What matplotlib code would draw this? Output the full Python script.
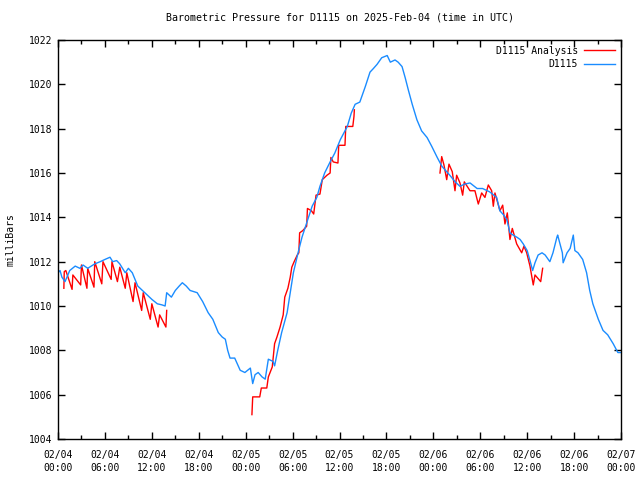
import matplotlib
matplotlib.use("Agg")
import matplotlib.pyplot as plt
import numpy as np

# D1115 observed pressure (hours since 2025-02-04 00:00 UTC, mb)
obs_hours = [0.0, 0.26, 0.5, 0.9, 1.5, 2.2, 2.8, 3.2, 3.8, 4.7, 5.4, 6.0, 6.65, 7.0, 7.5,
             7.9, 8.6, 9.0, 9.5, 10.2, 11.1, 12.0, 12.7, 13.3, 13.7, 13.9, 14.5, 15.0, 15.5,
             15.9, 16.4, 16.9, 17.8, 18.5, 19.2, 19.8, 20.5, 21.0, 21.4, 21.7, 22.0, 22.6,
             23.3, 23.9, 24.6, 24.9, 25.2, 25.6, 26.1, 26.5, 26.9, 27.5, 27.7, 28.1, 28.6,
             29.3, 29.7, 30.1, 30.7, 31.2, 31.8, 32.5, 33.1, 33.5, 34.1, 34.8, 35.4, 36.1,
             37.0, 37.5, 38.0, 38.6, 39.3, 39.9, 40.3, 40.8, 41.4, 42.1, 42.5, 43.1, 43.5,
             44.0, 44.4, 44.8, 45.3, 45.9, 46.5, 47.2, 47.8, 48.5, 49.1, 49.6, 50.1, 50.8,
             51.4, 52.0, 52.7, 53.6, 54.3, 55.2, 56.1, 56.5, 57.0, 57.4, 57.8, 58.2, 58.7,
             59.1, 59.5, 60.0, 60.4, 60.7, 61.0, 61.4, 61.9, 62.3, 62.9, 63.3, 63.8, 63.9,
             64.5, 64.6, 65.1, 65.5, 65.9, 66.1, 66.5, 67.1, 67.6, 68.0, 68.4, 69.1, 69.7,
             70.3, 71.0, 71.6, 72.0]
obs_mb = [1011.5, 1011.6, 1011.3, 1011.1, 1011.6, 1011.8, 1011.7, 1011.85, 1011.7, 1011.9,
          1012.0, 1012.1, 1012.2, 1012.0, 1012.05, 1011.9, 1011.5, 1011.7, 1011.5, 1010.9,
          1010.6, 1010.3, 1010.1, 1010.05, 1010.0, 1010.6, 1010.4, 1010.7, 1010.9, 1011.05,
          1010.9, 1010.7, 1010.6, 1010.2, 1009.7, 1009.4, 1008.8, 1008.6, 1008.5, 1008.0,
          1007.65, 1007.65, 1007.1, 1007.0, 1007.2, 1006.5, 1006.9, 1007.0, 1006.8, 1006.7,
          1007.6, 1007.5, 1007.3, 1008.0, 1008.8, 1009.7, 1010.6, 1011.5, 1012.4, 1013.1,
          1013.75, 1014.5, 1014.9, 1015.4, 1016.0, 1016.5, 1016.9, 1017.5, 1018.1, 1018.7,
          1019.1, 1019.2, 1019.9, 1020.55, 1020.7, 1020.9, 1021.2, 1021.3, 1021.0, 1021.1,
          1021.0, 1020.8, 1020.3, 1019.75, 1019.1, 1018.4, 1017.9, 1017.6, 1017.2, 1016.7,
          1016.3, 1016.1, 1015.9, 1015.6, 1015.4, 1015.5, 1015.55, 1015.3, 1015.3, 1015.15,
          1014.9, 1014.3, 1014.1, 1013.9, 1013.3, 1013.2, 1013.1, 1013.0, 1012.8, 1012.5,
          1012.0, 1011.6, 1011.95, 1012.3, 1012.4, 1012.3, 1012.0, 1012.4, 1013.1, 1013.2,
          1012.4, 1011.95, 1012.4, 1012.6, 1013.2, 1012.5, 1012.4, 1012.1, 1011.5, 1010.7,
          1010.1, 1009.4, 1008.9, 1008.7, 1008.3, 1007.9, 1007.9]

# D1115 Analysis (NaN separates the three runs)
ana_hours = [0.75, 0.8, 1.0, 1.8, 1.9, 2.9, 3.0, 3.7, 3.8, 4.6, 4.7, 5.6, 5.75, 6.8, 6.9,
             7.6, 7.9, 8.6, 8.8, 9.6, 9.85, 10.7, 10.9, 11.8, 12.0, 12.8, 13.0, 13.8, 13.9,
             np.nan,
             24.8, 24.9, 25.8, 26.0, 26.7, 26.9, 27.4, 27.7, 28.0, 28.4, 28.8, 29.0, 29.4,
             29.7, 29.9, 30.2, 30.6, 30.8, 30.9, 31.3, 31.8, 31.9, 32.4, 32.7, 33.0, 33.5,
             33.8, 34.4, 34.8, 34.9, 35.2, 35.8, 35.9, 36.7, 36.8, 37.7, 37.85, 37.9,
             np.nan,
             48.85, 49.07, 49.36, 49.71, 50.0, 50.42, 50.77, 50.98, 51.41, 51.75,
             51.96, 52.69, 53.32, 53.75, 54.18, 54.6, 55.03, 55.46, 55.67, 55.88, 56.52,
             56.87, 57.16, 57.46, 57.8, 58.1, 58.66, 59.3, 59.59, 59.94, 60.36, 60.78, 61.0,
             61.73, 61.98]
ana_mb = [1010.8, 1011.55, 1011.6, 1010.75, 1011.4, 1010.95, 1011.85, 1010.8, 1011.7,
          1010.85, 1012.0, 1011.0, 1012.0, 1011.2, 1012.0, 1011.1, 1011.75, 1010.8, 1011.5,
          1010.2, 1011.05, 1009.8, 1010.6, 1009.4, 1010.1, 1009.05, 1009.6, 1009.05, 1009.8,
          np.nan,
          1005.1, 1005.9, 1005.9, 1006.3, 1006.3, 1006.8, 1007.25, 1008.3, 1008.6, 1009.05,
          1009.6, 1010.4, 1010.8, 1011.3, 1011.75, 1012.0, 1012.3, 1012.4, 1013.3, 1013.4,
          1013.6, 1014.4, 1014.3, 1014.15, 1015.0, 1015.05, 1015.7, 1015.9, 1016.0, 1016.7,
          1016.5, 1016.45, 1017.25, 1017.25, 1018.1, 1018.1, 1018.55, 1018.85,
          np.nan,
          1016.0, 1016.74, 1016.36, 1015.7, 1016.4, 1016.06, 1015.2, 1015.9, 1015.55,
          1015.0, 1015.6, 1015.2, 1015.2, 1014.6, 1015.1, 1014.9, 1015.46, 1015.2, 1014.5,
          1015.1, 1014.3, 1014.55, 1013.7, 1014.2, 1013.0, 1013.5, 1012.8, 1012.4, 1012.7,
          1012.4, 1011.8, 1010.95, 1011.4, 1011.1, 1011.7]

tick_hours = [0, 6, 12, 18, 24, 30, 36, 42, 48, 54, 60, 66, 72]
tick_labels = ["02/04\n00:00", "02/04\n06:00", "02/04\n12:00", "02/04\n18:00",
               "02/05\n00:00", "02/05\n06:00", "02/05\n12:00", "02/05\n18:00",
               "02/06\n00:00", "02/06\n06:00", "02/06\n12:00", "02/06\n18:00",
               "02/07\n00:00"]

plt.rcParams['font.family'] = 'DejaVu Sans Mono'
plt.rcParams['font.size'] = 7

fig = plt.figure(figsize=(6.4, 4.8), dpi=100)
ax = fig.add_axes([58/640, 41/480, 563/640, 399/480])

ax.plot(ana_hours, ana_mb, color='#ff0000', lw=1.0, label='D1115 Analysis')
ax.plot(obs_hours, obs_mb, color='#1a8cff', lw=1.0, label='D1115')

ax.set_xlim(0, 72)
ax.set_ylim(1004, 1022)
ax.set_xticks(tick_hours)
ax.set_xticklabels(tick_labels, linespacing=1.35)
ax.set_xticks(np.arange(3, 72, 6), minor=True)
ax.set_yticks(np.arange(1004, 1023, 2))

ax.tick_params(which='both', direction='in', top=True, right=True, width=1)
ax.tick_params(which='major', length=5, pad=4)
ax.tick_params(which='minor', length=3)
ax.tick_params(axis='x', which='major', pad=8)
for s in ax.spines.values():
    s.set_linewidth(1)

ax.set_ylabel('milliBars', labelpad=10)
ax.set_title('Barometric Pressure for D1115 on 2025-Feb-04 (time in UTC)', fontsize=7.2, pad=14)

ax.legend(loc='upper right', frameon=False, markerfirst=False, handlelength=3.2,
          handletextpad=0.6, borderaxespad=0.2, labelspacing=0.35)

fig.savefig('out.png', dpi=100)
